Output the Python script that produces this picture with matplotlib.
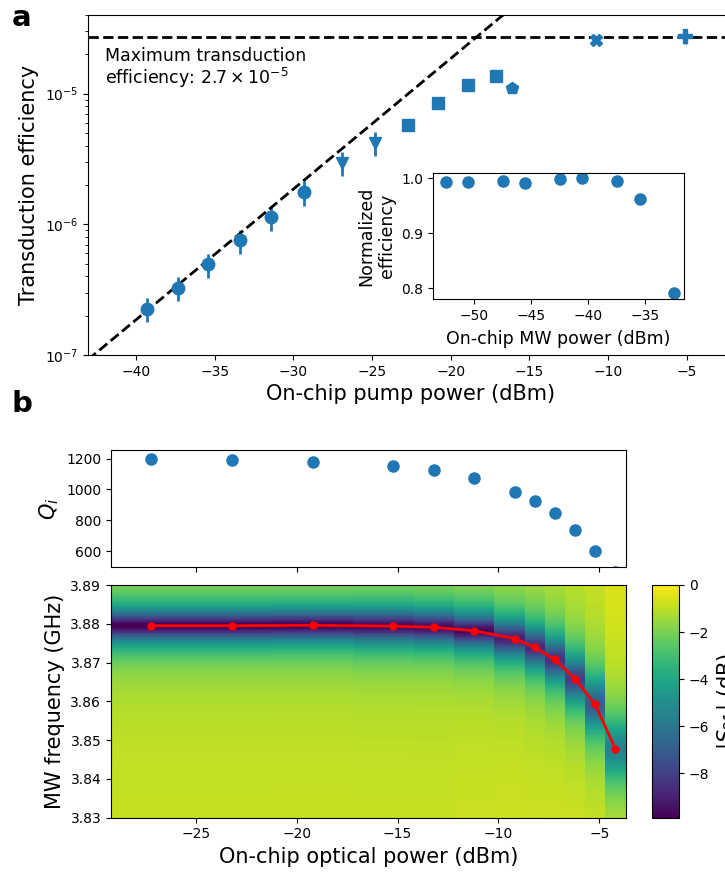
import numpy as np
import matplotlib
matplotlib.use('Agg')
import matplotlib.pyplot as plt

# ---------------- Panel a data ----------------
pump_circle = [-39.3, -37.3, -35.4, -33.4, -31.4, -29.3]
eff_circle = [2.25e-7, 3.26e-7, 4.93e-7, 7.54e-7, 1.13e-6, 1.76e-6]
err_circle = [4.7e-8, 6.8e-8, 1.04e-7, 1.58e-7, 2.4e-7, 3.7e-7]

pump_tri = [-26.9, -24.8]
eff_tri = [2.95e-6, 4.21e-6]
err_tri = [6.2e-7, 8.8e-7]

pump_sq = [-22.7, -20.8, -18.9, -17.1]
eff_sq = [5.78e-6, 8.49e-6, 1.17e-5, 1.37e-5]

pump_pent = [-16.1]
eff_pent = [1.11e-5]

pump_x = [-10.8]
eff_x = [2.56e-5]

pump_plus = [-5.1]
eff_plus = [2.75e-5]
err_plus = [3.5e-6]

max_eff = 2.7e-5
linear_coeff = 1.86e-3  # efficiency per mW of pump (slope-1 fit)

# inset
mw_power = [-52.5, -50.5, -47.5, -45.5, -42.5, -40.5, -37.5, -35.5, -32.5]
norm_eff = [0.994, 0.994, 0.995, 0.992, 0.999, 1.0, 0.996, 0.962, 0.791]

# ---------------- Panel b data ----------------
opt_power = [-27.2, -23.2, -19.2, -15.2, -13.2, -11.2, -9.2, -8.2, -7.2, -6.2, -5.2, -4.2]
Qi = [1200, 1193, 1178, 1152, 1124, 1077, 986, 924, 850, 740, 600, 468]
f_res = [3.8795, 3.8795, 3.8796, 3.8794, 3.8791, 3.8782, 3.8762, 3.8739, 3.8708,
         3.8658, 3.8592, 3.8477]
# per-column S21 read-offs: off-resonance level, minimum level (dB), half width (GHz)
s21_base = [-0.8, -0.8, -0.8, -0.8, -0.8, -0.75, -0.7, -0.7, -0.65, -0.6, -0.55, -0.4]
s21_min = [-9.9, -9.9, -9.9, -9.7, -9.6, -9.7, -9.0, -8.7, -8.5, -8.0, -7.0, -5.5]
s21_hw = [0.0066, 0.0066, 0.0066, 0.0069, 0.0069, 0.0071, 0.0076, 0.008, 0.0085,
          0.009, 0.010, 0.011]

freq = np.linspace(3.83, 3.89, 301)

C0 = '#1f77b4'

fig = plt.figure(figsize=(7.25, 8.75), dpi=100)

# ---------------- Panel a ----------------
ax = fig.add_axes([88/725, 1-355/875, 646/725, 340/875])
ax.set_yscale('log')
ekw = dict(color=C0, elinewidth=2, capsize=0, linestyle='none')
ax.errorbar(pump_circle, eff_circle, yerr=err_circle, marker='o', ms=9, **ekw)
ax.errorbar(pump_tri, eff_tri, yerr=err_tri, marker='v', ms=9, **ekw)
ax.errorbar(pump_sq, eff_sq, marker='s', ms=8, **ekw)
ax.errorbar(pump_pent, eff_pent, marker='p', ms=9, **ekw)
ax.errorbar(pump_x, eff_x, marker='X', ms=9, **ekw)
ax.errorbar(pump_plus, eff_plus, yerr=err_plus, marker='P', ms=10, **ekw)

xl = (-43.05, -2.0)
xx = np.linspace(xl[0], xl[1], 200)
ax.plot(xx, linear_coeff * 10**(xx/10), 'k--', lw=2)
ax.axhline(max_eff, color='k', ls='--', lw=2)
ax.set_xlim(*xl)
ax.set_ylim(1e-7, 4e-5)
ax.set_xticks([-40, -35, -30, -25, -20, -15, -10, -5])
ax.tick_params(labelsize=10)
ax.set_xlabel('On-chip pump power (dBm)', fontsize=15)
ax.set_ylabel('Transduction efficiency', fontsize=15)
ax.text(0.026, 0.905, 'Maximum transduction\nefficiency: $2.7\\times10^{-5}$',
        transform=ax.transAxes, fontsize=12.5, va='top', ha='left', linespacing=1.05)

axi = fig.add_axes([433/725, 1-299/875, 251/725, 126/875])
axi.plot(mw_power, norm_eff, 'o', color=C0, ms=8)
axi.set_xlim(-53.6, -31.6)
axi.set_ylim(0.7805, 1.0097)
axi.set_xticks([-50, -45, -40, -35])
axi.set_yticks([0.8, 0.9, 1.0])
axi.tick_params(labelsize=10)
axi.set_xlabel('On-chip MW power (dBm)', fontsize=12.5, labelpad=5)
axi.set_ylabel('Normalized\nefficiency', fontsize=12.5)

# ---------------- Panel b ----------------
axq = fig.add_axes([111/725, 1-566.7/875, 514.5/725, 116.7/875])
axq.plot(opt_power, Qi, 'o', color=C0, ms=8)
axq.set_ylim(500, 1255)
axq.set_yticks([600, 800, 1000, 1200])
axq.set_xlim(-29.2, -3.7)
axq.set_xticks([-25, -20, -15, -10, -5])
axq.set_xticklabels([])
axq.tick_params(labelsize=10)
axq.set_ylabel('$Q_i$', fontsize=15)

axh = fig.add_axes([111/725, 1-817.7/875, 514.5/725, 232.7/875])
cols = []
for f0, b, m, hw in zip(f_res, s21_base, s21_min, s21_hw):
    D = 1 - 10**((m - b)/10)
    cols.append(b + 10*np.log10(1 - D/(1 + ((freq - f0)/hw)**2)))
Z = np.array(cols).T
mesh = axh.pcolormesh(opt_power, freq, Z, shading='nearest', cmap='viridis',
                      vmin=-9.9, vmax=0, rasterized=True)
axh.plot(opt_power, f_res, 'o-', color='red', lw=2, ms=5)
axh.set_xlim(-29.2, -3.7)
axh.set_ylim(3.83, 3.89)
axh.set_xticks([-25, -20, -15, -10, -5])
axh.set_yticks([3.83, 3.84, 3.85, 3.86, 3.87, 3.88, 3.89])
axh.tick_params(labelsize=10)
axh.set_xlabel('On-chip optical power (dBm)', fontsize=15)
axh.set_ylabel('MW frequency (GHz)', fontsize=15)

cax = fig.add_axes([652/725, 1-817.7/875, 27/725, 232.7/875])
cb = fig.colorbar(mesh, cax=cax)
cb.set_ticks([0, -2, -4, -6, -8])
cb.ax.tick_params(labelsize=10)
cb.set_label('$|S_{21}|$ (dB)', fontsize=15)

fig.text(12/725, 1-4/875, 'a', fontsize=21, fontweight='bold', va='top', ha='left')
fig.text(12/725, 1-390/875, 'b', fontsize=21, fontweight='bold', va='top', ha='left')

fig.savefig('out.png', dpi=100)
